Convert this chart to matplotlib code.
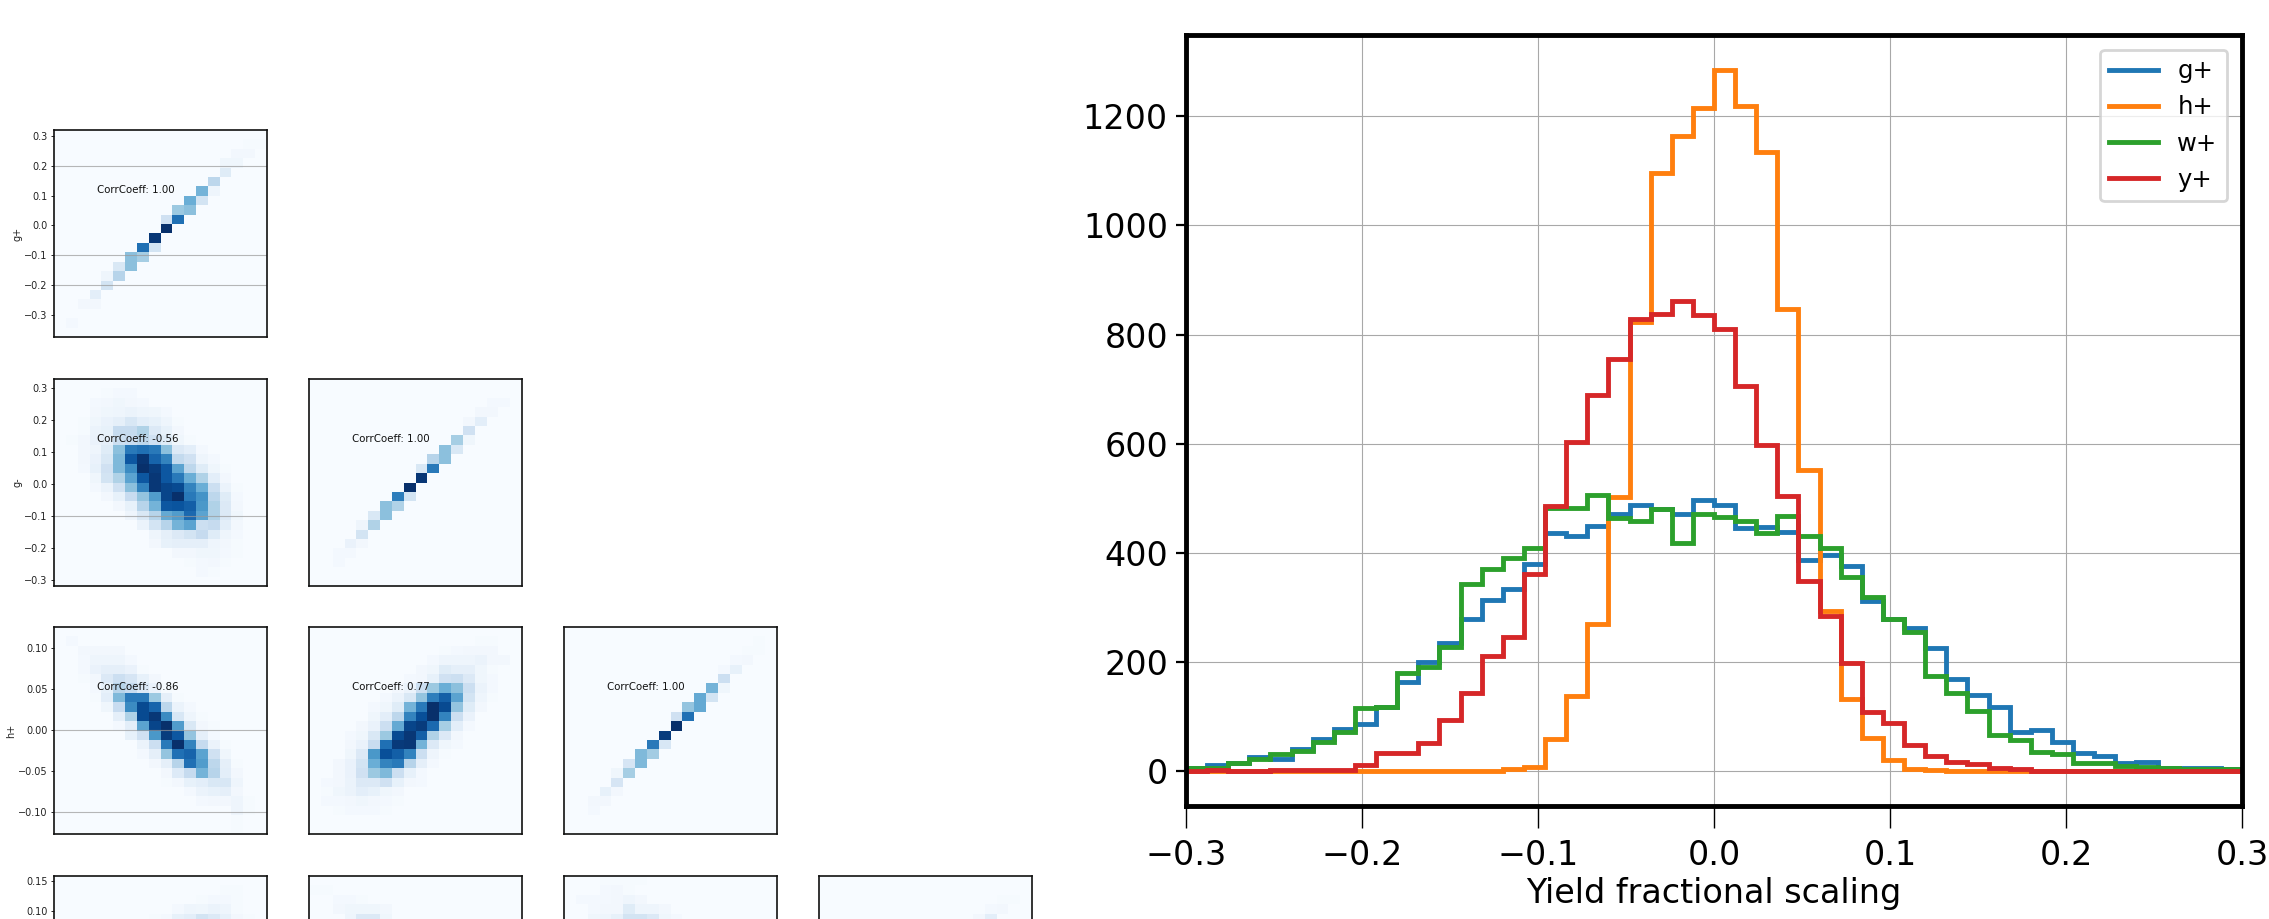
import matplotlib
matplotlib.use('Agg')
import matplotlib.pyplot as plt
import numpy as np

W, H = 2269, 919

# yield fractional scaling histograms, 50 bins from -0.3 to 0.3
n_bins = 50
x_range = [-0.3, 0.3]
g_plus = [5, 12, 14, 25, 23, 40, 58, 78, 86, 118,
          164, 200, 234, 279, 313, 334, 380, 437, 430, 450,
          472, 488, 480, 471, 496, 487, 445, 448, 439, 387,
          396, 375, 312, 279, 263, 226, 169, 140, 118, 72,
          75, 53, 34, 28, 14, 17, 5, 6, 6, 3]
h_plus = [0, 0, 0, 0, 0, 0, 0, 0, 0, 0,
          0, 0, 0, 0, 1, 3, 8, 58, 137, 270,
          502, 823, 1096, 1164, 1215, 1285, 1218, 1135, 846, 551,
          294, 132, 60, 20, 3, 2, 1, 0, 0, 0,
          0, 0, 0, 0, 0, 0, 0, 0, 0, 0]
w_plus = [6, 6, 15, 23, 31, 36, 54, 71, 115, 118,
          179, 190, 227, 342, 370, 390, 409, 483, 483, 506,
          464, 459, 481, 418, 471, 466, 458, 437, 467, 431,
          409, 355, 319, 278, 255, 175, 143, 111, 66, 57,
          35, 31, 15, 15, 10, 8, 5, 4, 3, 3]
y_plus = [1, 2, 1, 1, 2, 2, 2, 2, 12, 34,
          34, 51, 93, 143, 210, 246, 362, 485, 604, 690,
          756, 828, 838, 861, 836, 811, 705, 598, 504, 349,
          284, 198, 109, 88, 47, 28, 16, 13, 5, 3,
          1, 1, 0, 0, 0, 0, 0, 0, 0, 0]
hist_series = [('g+', g_plus, '#1f77b4'), ('h+', h_plus, '#ff7f0e'),
               ('w+', w_plus, '#2ca02c'), ('y+', y_plus, '#d62728')]
hist_xticks = [-0.3, -0.2, -0.1, 0.0, 0.1, 0.2, 0.3]
hist_yticks = [0, 200, 400, 600, 800, 1000, 1200]

# corner plot cells, top row first: each row is [first column, value, value, ...]
gp_gp = [[0], [16, 1, 1], [15, 3, 3], [14, 4, 4], [14, 12], [13, 28], [12, 48, 5], [11, 50, 18],
         [10, 38, 42], [9, 20, 75], [9, 100], [8, 97], [7, 75, 18], [6, 42, 35], [5, 15, 42],
         [4, 5, 30], [4, 18], [3, 10], [2, 3, 3], [0], [1, 2], [0]]
gm_gp = [[0],
         [4, 1, 2, 2],
         [3, 2, 3, 4, 3, 2],
         [3, 3, 4, 5, 6, 5, 4, 2],
         [2, 1, 4, 7, 9, 16, 10, 8, 5, 1],
         [2, 1, 6, 8, 25, 25, 32, 14, 8, 3],
         [1, 1, 3, 7, 9, 22, 24, 28, 20, 12, 4, 1],
         [2, 3, 5, 12, 42, 72, 75, 72, 42, 14, 10, 2],
         [2, 3, 7, 15, 45, 85, 98, 80, 68, 26, 20, 5, 2],
         [2, 2, 8, 20, 45, 65, 100, 95, 85, 55, 28, 12, 4, 1],
         [3, 4, 18, 32, 55, 85, 97, 85, 72, 50, 32, 10, 3],
         [3, 2, 6, 20, 42, 68, 97, 92, 90, 68, 50, 22, 6, 1],
         [4, 3, 8, 24, 40, 58, 92, 100, 72, 62, 28, 12, 2],
         [5, 3, 8, 30, 48, 85, 86, 82, 60, 32, 14, 3],
         [6, 5, 15, 30, 52, 58, 78, 55, 32, 14, 4],
         [7, 6, 18, 30, 48, 55, 22, 25, 10, 3],
         [8, 5, 9, 14, 18, 25, 12, 5, 2],
         [8, 3, 8, 9, 9, 9, 5, 3, 1],
         [10, 3, 3, 4, 4, 2, 1],
         [11, 1, 2, 3, 1],
         [12, 2, 1],
         [0]]
gm_gm = [[0], [0], [15, 2, 2], [14, 3, 3], [13, 3, 10], [13, 20], [12, 35, 4], [11, 42, 15],
         [10, 30, 42], [9, 15, 72], [9, 97], [8, 100], [7, 70, 18], [6, 42, 32], [5, 15, 42],
         [4, 5, 32], [4, 18], [3, 7, 3], [2, 2, 2], [2, 2], [0], [0]]
hp_gp = [[0],
         [1, 2],
         [2, 3, 3, 3, 3],
         [2, 2, 5, 5, 5, 2],
         [2, 2, 7, 9, 9, 7, 1],
         [2, 1, 3, 14, 22, 17, 8, 3],
         [3, 2, 8, 30, 25, 14, 7, 1],
         [3, 1, 10, 45, 72, 72, 38, 9, 1],
         [4, 4, 24, 65, 90, 80, 28, 6, 2],
         [5, 9, 32, 90, 97, 65, 16, 5, 1],
         [5, 2, 10, 55, 92, 100, 58, 15, 3, 1],
         [6, 8, 20, 60, 95, 85, 40, 9, 2],
         [7, 6, 22, 72, 100, 68, 25, 6, 1],
         [7, 2, 9, 40, 75, 80, 55, 20, 4],
         [8, 3, 9, 30, 75, 58, 28, 9, 1],
         [9, 3, 13, 25, 48, 30, 10, 3],
         [9, 1, 3, 8, 10, 15, 16, 5],
         [11, 2, 6, 8, 9, 3],
         [12, 2, 3, 3, 5, 1],
         [15, 5, 1],
         [15, 1],
         [15, 1]]
hp_gm = [[0],
         [14, 1, 1],
         [11, 1, 2, 3, 3, 3],
         [10, 2, 5, 5, 5, 6, 3, 3],
         [9, 3, 4, 12, 9, 9, 4, 1],
         [8, 2, 3, 8, 20, 22, 14, 4, 2],
         [7, 3, 6, 22, 38, 50, 42, 22, 6, 2],
         [6, 2, 6, 15, 40, 70, 82, 55, 18, 5, 1],
         [5, 2, 4, 12, 48, 72, 100, 90, 40, 12, 3],
         [5, 4, 10, 28, 68, 88, 100, 68, 22, 7],
         [4, 3, 7, 22, 52, 92, 95, 78, 35, 10, 2],
         [3, 2, 4, 15, 38, 90, 97, 82, 32, 14, 3],
         [3, 3, 7, 24, 75, 96, 97, 48, 14, 4, 2],
         [3, 4, 14, 60, 88, 82, 68, 22, 5, 1],
         [2, 3, 7, 18, 50, 68, 72, 30, 9, 2],
         [2, 3, 7, 20, 38, 45, 22, 8, 2],
         [1, 2, 3, 6, 14, 14, 20, 8, 3, 2],
         [1, 1, 4, 6, 10, 8, 4, 3],
         [1, 2, 2, 3, 4, 3, 2, 1],
         [2, 1, 2, 2, 2, 1],
         [0],
         [0]]
hp_hp = [[0], [16, 1], [15, 1, 1], [14, 2, 3], [13, 2, 8], [13, 22], [12, 48, 4], [11, 52, 18],
         [10, 40, 52], [9, 20, 75], [9, 100], [8, 95], [7, 72, 16], [6, 45, 36], [5, 17, 45],
         [4, 4, 35], [4, 17], [3, 8, 3], [2, 3, 3], [2, 2], [0], [0]]
# bottom row runs off the figure, only its first rows can be read
yp_gp = [[0], [14, 1, 1], [12, 1, 2, 2, 1], [10, 2, 5, 4, 6, 5, 1],
         [8, 1, 2, 8, 10, 18, 14, 8, 3, 1]]
yp_gm = [[0], [0, 1, 1], [2, 2, 2, 1], [2, 3, 4, 4, 4, 3], [3, 5, 14, 14, 4]]
yp_hp = [[3, 1, 1, 1, 1], [3, 2, 3, 1], [1, 2, 2, 2, 3, 5, 3], [2, 2, 3, 3, 12, 5, 5, 3],
         [2, 4, 5, 8, 18, 18, 14, 4, 2]]
yp_yp = [[0], [0], [15, 1, 1], [14, 2, 3], [13, 3, 10]]

corner_cells = [[gp_gp], [gm_gp, gm_gm], [hp_gp, hp_gm, hp_hp], [yp_gp, yp_gm, yp_hp, yp_yp]]
corner_labels = ['g+', 'g-', 'h+', None]
corner_coeffs = [['1.00'], ['-0.56', '1.00'], ['-0.86', '0.77', '1.00'], [None, None, None, None]]
corner_yticks = [[-0.3, -0.2, -0.1, 0.0, 0.1, 0.2, 0.3],
                 [-0.3, -0.2, -0.1, 0.0, 0.1, 0.2, 0.3],
                 [-0.10, -0.05, 0.0, 0.05, 0.10],
                 [0.10, 0.15]]
corner_ylims = [(-0.374, 0.32), (-0.319, 0.328), (-0.127, 0.125), (-0.184, 0.158)]
corner_lines = [[0.2, -0.1, -0.2], [-0.1], [0.0, -0.1], []]

col_x = [54, 309, 564, 819]
row_y = [130, 379, 627, 876]
panel_w, panel_h = 213, 207
n_cols, n_rows = 18, 22


def px_axes(fig, left, top, width, height):
    return fig.add_axes([left / W, 1 - (top + height) / H, width / W, height / H])


def expand(rows):
    grid = np.zeros((n_rows, n_cols))
    for i, row in enumerate(rows):
        vals = row[1:]
        grid[i, row[0]:row[0] + len(vals)] = vals
    return grid


fig = plt.figure(figsize=(W / 100, H / 100), dpi=100)

for i, cells_row in enumerate(corner_cells):
    for j, rows in enumerate(cells_row):
        ax = px_axes(fig, col_x[j], row_y[i], panel_w, panel_h)
        lo, hi = corner_ylims[i]
        x_edges = np.arange(n_cols + 1)
        y_edges = np.linspace(hi, lo, n_rows + 1)
        ax.pcolormesh(x_edges, y_edges, expand(rows), cmap='Blues', vmin=0, vmax=100)
        ax.set_xlim(0, n_cols)
        ax.set_ylim(lo, hi)
        ax.set_xticks([])
        if j == 0:
            ax.set_yticks(corner_yticks[i])
            ax.tick_params(axis='y', labelsize=7, length=2.5, width=0.6, pad=2, labelcolor='#222222')
            if corner_labels[i]:
                ax.set_ylabel(corner_labels[i], fontsize=7, labelpad=1.5, color='#222222')
            for v in corner_lines[i]:
                ax.axhline(v, color='#999999', lw=0.8, alpha=0.7)
        else:
            ax.set_yticks([])
        for s in ax.spines.values():
            s.set_linewidth(1.2)
            s.set_color('#111111')
        if corner_coeffs[i][j]:
            ax.text(0.2, 0.71, 'CorrCoeff: ' + corner_coeffs[i][j], transform=ax.transAxes,
                    fontsize=7.4, va='center', color='#111111')

# right hand histogram
ax = px_axes(fig, 1186, 35, 1056, 771)
edges = np.linspace(x_range[0], x_range[1], n_bins + 1)
for name, vals, col in hist_series:
    ax.stairs(vals, edges, baseline=None, color=col, lw=3.5, label=name)
ax.set_xlim(*x_range)
ax.set_ylim(-64, 1349)
ax.set_xticks(hist_xticks)
ax.set_yticks(hist_yticks)
ax.set_axisbelow(True)
ax.grid(True, color='#a8a8a8', lw=0.8)
ax.tick_params(axis='x', labelsize=24, length=16, width=1.0, pad=8)
ax.tick_params(axis='y', labelsize=24, length=7, width=1.6, pad=6)
ax.set_xlabel('Yield fractional scaling', fontsize=24, labelpad=3)
for s in ax.spines.values():
    s.set_linewidth(3.5)
leg = ax.legend(loc='upper right', fontsize=17.5, framealpha=0.8, borderaxespad=0.6)
leg.get_frame().set_linewidth(2.0)

fig.savefig('out.png', dpi=100)
